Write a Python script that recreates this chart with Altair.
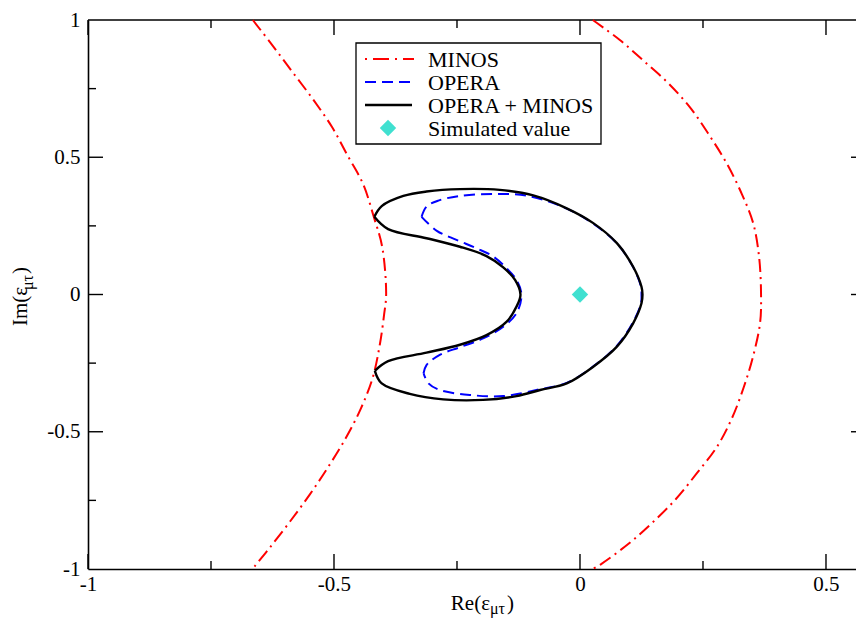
import altair as alt
import pandas as pd

# ---------------- data ----------------
X_DOMAIN = [-1.0, 0.561]
Y_DOMAIN = [-1.0, 1.0]
x_major = [-1.0, -0.5, 0.0, 0.5]
x_minor = [-0.75, -0.25, 0.25]
y_major = [-1.0, -0.5, 0.0, 0.5, 1.0]
y_minor = [-0.75, -0.25, 0.25, 0.75]

# MINOS (two arcs)
minos_left_x = [-0.665, -0.624, -0.583, -0.543, -0.504, -0.472, -0.441, -0.419, -0.402, -0.394,
                -0.398, -0.407, -0.421, -0.445, -0.476, -0.512, -0.549, -0.589, -0.630, -0.661, -0.665]
minos_left_y = [1.0, 0.905, 0.807, 0.712, 0.610, 0.505, 0.403, 0.282, 0.173, 0.0,
                -0.071, -0.184, -0.301, -0.414, -0.523, -0.629, -0.728, -0.826, -0.921, -0.990, -1.0]
minos_right_x = [0.026, 0.081, 0.132, 0.181, 0.226, 0.264, 0.299, 0.329, 0.352, 0.364, 0.368,
                 0.366, 0.352, 0.333, 0.309, 0.278, 0.238, 0.195, 0.146, 0.098, 0.043, 0.026]
minos_right_y = [1.0, 0.927, 0.847, 0.767, 0.676, 0.577, 0.475, 0.366, 0.260, 0.137, 0.0,
                 -0.104, -0.224, -0.337, -0.450, -0.556, -0.650, -0.745, -0.833, -0.909, -0.982, -1.0]

# OPERA: outer arc (upper corner -> lower corner) and inner arc (lower corner -> upper corner)
opera_outer_x = [-0.322, -0.312, -0.288, -0.244, -0.176, -0.108, -0.027, 0.027, 0.075, 0.108, 0.124, 0.125,
                 0.124, 0.107, 0.074, 0.027, -0.027, -0.081, -0.156, -0.224, -0.285, -0.308, -0.318]
opera_outer_y = [0.283, 0.320, 0.342, 0.359, 0.366, 0.360, 0.313, 0.258, 0.186, 0.100, 0.028, 0.0,
                 -0.032, -0.104, -0.189, -0.262, -0.322, -0.345, -0.370, -0.366, -0.348, -0.324, -0.287]
opera_inner_x = [-0.318, -0.312, -0.285, -0.244, -0.197, -0.156, -0.129, -0.119,
                 -0.129, -0.149, -0.176, -0.210, -0.251, -0.291, -0.322]
opera_inner_y = [-0.287, -0.257, -0.220, -0.192, -0.160, -0.117, -0.068, 0.0,
                 0.053, 0.095, 0.138, 0.168, 0.199, 0.232, 0.283]

# OPERA + MINOS: outer arc (upper cusp -> lower cusp) and inner arc (lower cusp -> upper cusp)
comb_outer_x = [-0.418, -0.403, -0.359, -0.312, -0.244, -0.163, -0.095, -0.027, 0.027, 0.075, 0.108,
                0.125, 0.127, 0.125, 0.108, 0.075, 0.027, -0.027, -0.081, -0.129, -0.197, -0.278,
                -0.346, -0.403, -0.417]
comb_outer_y = [0.283, 0.322, 0.359, 0.375, 0.384, 0.381, 0.361, 0.314, 0.260, 0.187, 0.101,
                0.028, 0.0, -0.032, -0.105, -0.190, -0.263, -0.324, -0.348, -0.370, -0.384, -0.382,
                -0.362, -0.324, -0.278]
comb_inner_x = [-0.417, -0.390, -0.312, -0.244, -0.190, -0.149, -0.129, -0.121,
                -0.132, -0.156, -0.190, -0.244, -0.312, -0.390, -0.418]
comb_inner_y = [-0.278, -0.243, -0.212, -0.183, -0.148, -0.099, -0.044, 0.0,
                0.053, 0.099, 0.140, 0.174, 0.205, 0.238, 0.283]

sim_x = [0.0]
sim_y = [0.0]

legend_labels = ["MINOS", "OPERA", "OPERA + MINOS", "Simulated value"]

# ---------------- chart ----------------
W, H = 768, 549
FONT = "Liberation Serif"
RED, BLUE, BLACK, TURQ = "#ff0000", "#0000ff", "#000000", "#40e0d0"

xs = alt.Scale(domain=X_DOMAIN, nice=False, zero=False)
ys = alt.Scale(domain=Y_DOMAIN, nice=False, zero=False)

AX = alt.Axis(values=x_major, labelExpr="'' + datum.value", ticks=False, grid=False, title=None,
              domainColor=BLACK, domainWidth=1.6, labelFont=FONT, labelFontSize=21, labelColor=BLACK,
              labelPadding=4, labelFlush=False)
AY = alt.Axis(values=y_major, labelExpr="'' + datum.value", ticks=False, grid=False, title=None,
              domainColor=BLACK, domainWidth=1.6, labelFont=FONT, labelFontSize=21, labelColor=BLACK,
              labelPadding=8, labelFlush=False)


def X(f):
    return alt.X(f, scale=xs, axis=AX)


def Y(f):
    return alt.Y(f, scale=ys, axis=AY)


def curve_df(parts):
    rows = []
    for pname, xv, yv in parts:
        for i, (a, b) in enumerate(zip(xv, yv)):
            rows.append({"x": a, "y": b, "part": pname, "i": i})
    return pd.DataFrame(rows)


one = pd.DataFrame({"a": [0]})

layers = []

# frame top
layers.append(alt.Chart(one).mark_rule(color=BLACK, strokeWidth=1.6).encode(
    x=alt.value(0), x2=alt.value(W), y=alt.value(0)))


def xticks(vals, length):
    d = pd.DataFrame({"v": vals})
    bot = alt.Chart(d).mark_rule(color=BLACK, strokeWidth=1.4).encode(
        x=X("v:Q"), y=alt.value(H), y2=alt.value(H - length))
    top = alt.Chart(d).mark_rule(color=BLACK, strokeWidth=1.4).encode(
        x=X("v:Q"), y=alt.value(0), y2=alt.value(length))
    return [bot, top]


def yticks(vals, length, right_len):
    d = pd.DataFrame({"v": vals})
    left = alt.Chart(d).mark_rule(color=BLACK, strokeWidth=1.4).encode(
        y=Y("v:Q"), x=alt.value(0), x2=alt.value(length))
    right = alt.Chart(d).mark_rule(color=BLACK, strokeWidth=1.4).encode(
        y=Y("v:Q"), x=alt.value(W - right_len), x2=alt.value(W))
    return [left, right]


layers += xticks(x_major, 15) + xticks(x_minor, 8)
layers += yticks(y_major[1:-1], 15, 5)
layers += yticks(y_minor, 8, 0)[:1]

# curves
minos_df = curve_df([("left", minos_left_x, minos_left_y), ("right", minos_right_x, minos_right_y)])
opera_df = curve_df([("outer", opera_outer_x, opera_outer_y), ("inner", opera_inner_x, opera_inner_y)])
comb_df = curve_df([("outer", comb_outer_x, comb_outer_y), ("inner", comb_inner_x, comb_inner_y)])

layers.append(alt.Chart(minos_df).mark_line(color=RED, strokeWidth=2, strokeDash=[13, 5, 2, 5],
                                            interpolate="catmull-rom").encode(
    x=X("x:Q"), y=Y("y:Q"), detail="part:N", order="i:Q"))
layers.append(alt.Chart(opera_df).mark_line(color=BLUE, strokeWidth=2, strokeDash=[11, 6],
                                            interpolate="catmull-rom").encode(
    x=X("x:Q"), y=Y("y:Q"), detail="part:N", order="i:Q"))
layers.append(alt.Chart(comb_df).mark_line(color=BLACK, strokeWidth=2.4, strokeJoin="round",
                                           interpolate="catmull-rom").encode(
    x=X("x:Q"), y=Y("y:Q"), detail="part:N", order="i:Q"))
layers.append(alt.Chart(pd.DataFrame({"x": sim_x, "y": sim_y})).mark_point(
    shape="diamond", filled=True, color=TURQ, size=270, opacity=1).encode(
    x=X("x:Q"), y=Y("y:Q")))

# legend (manual, xmgrace style)
LX0, LX1, LY0, LY1 = 268, 513, 23, 124
rows_y = [39, 62, 85, 108]
layers.append(alt.Chart(one).mark_rect(fill="white", stroke=BLACK, strokeWidth=1.3).encode(
    x=alt.value(LX0), x2=alt.value(LX1), y=alt.value(LY0), y2=alt.value(LY1)))
layers.append(alt.Chart(one).mark_rule(color=RED, strokeWidth=2, strokeDash=[2, 6, 16, 6]).encode(
    x=alt.value(277), x2=alt.value(326), y=alt.value(rows_y[0])))
layers.append(alt.Chart(one).mark_rule(color=BLUE, strokeWidth=2, strokeDash=[11, 6]).encode(
    x=alt.value(277), x2=alt.value(324), y=alt.value(rows_y[1])))
layers.append(alt.Chart(one).mark_rule(color=BLACK, strokeWidth=2.4).encode(
    x=alt.value(277), x2=alt.value(324), y=alt.value(rows_y[2])))
layers.append(alt.Chart(one).mark_point(shape="diamond", filled=True, color=TURQ, size=270, opacity=1).encode(
    x=alt.value(300), y=alt.value(rows_y[3])))
for lab, ry in zip(legend_labels, rows_y):
    layers.append(alt.Chart(one).mark_text(align="left", baseline="middle", font=FONT, fontSize=22,
                                           color=BLACK).encode(
        x=alt.value(340), y=alt.value(ry + 1), text=alt.value(lab)))


# axis titles with subscripts
def txt(s, x, y, size, align="left", angle=0):
    return alt.Chart(one).mark_text(align=align, baseline="alphabetic", font=FONT, fontSize=size,
                                    color=BLACK, angle=angle).encode(
        x=alt.value(x), y=alt.value(y), text=alt.value(s))


layers += [
    txt("Re(ε", 402, 590, 21, align="right"),
    txt("μτ", 402, 594, 16),
    txt(")", 419, 590, 21),
    txt("Im(ε", -61, 306, 21, angle=270),
    txt("μτ", -55, 270, 16, angle=270),
    txt(")", -61, 254, 21, angle=270),
]

chart = alt.layer(*layers).properties(
    width=W, height=H,
    autosize=alt.AutoSizeParams(type="none"),
    padding={"left": 80, "top": 12, "right": 0, "bottom": 49},
).configure_view(stroke=None)

chart.save("out.html", embed_options={"renderer": "svg", "actions": False})
